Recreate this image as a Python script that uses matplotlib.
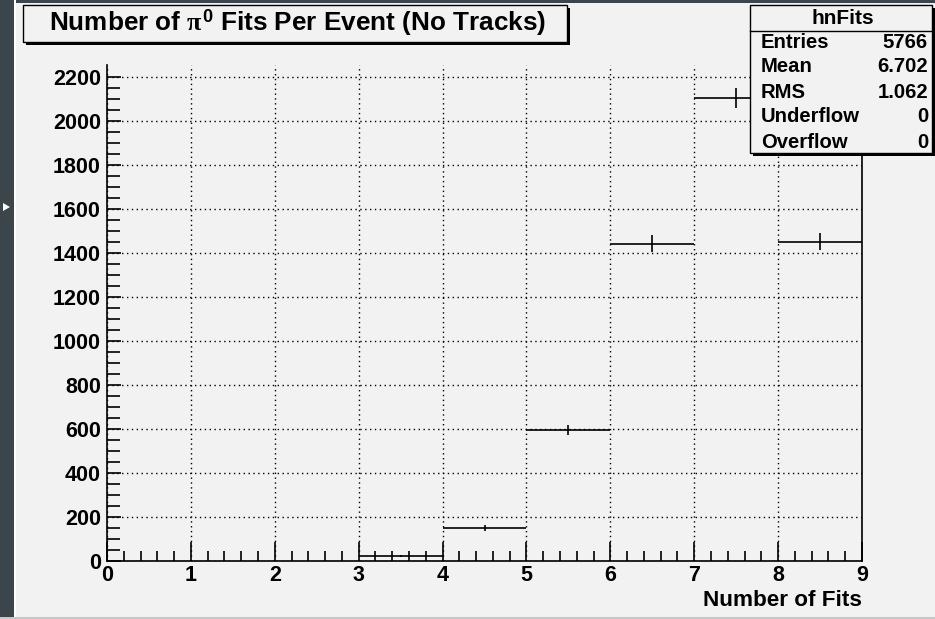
import matplotlib.pyplot as plt
import numpy as np
from matplotlib.patches import Rectangle, Polygon

# histogram contents (bins 0..9, width 1)
bin_lo = [3, 4, 5, 6, 7, 8]
counts = [22, 150, 596, 1442, 2104, 1452]
stat_names = ['Entries', 'Mean', 'RMS', 'Underflow', 'Overflow']
stat_vals = ['5766', '6.702', '1.062', '0', '0']

W, H = 935, 619
bg = '#f2f2f2'
plt.rcParams['font.family'] = ['Liberation Sans', 'DejaVu Sans']
plt.rcParams['font.weight'] = 'bold'
plt.rcParams['mathtext.fontset'] = 'custom'
plt.rcParams['mathtext.rm'] = 'Liberation Serif'
plt.rcParams['mathtext.it'] = 'Liberation Serif'
plt.rcParams['mathtext.bf'] = 'Liberation Sans:bold'

fig = plt.figure(figsize=(W / 100, H / 100), dpi=100, facecolor=bg)

def fx(px):
    return px / W

def fy(py):
    return 1 - py / H

# dark window border on the left and top
fig.patches.append(Rectangle((0, 0), fx(14), 1, transform=fig.transFigure,
                             facecolor='#3c464a', edgecolor='none', zorder=0))
fig.patches.append(Rectangle((0, fy(3)), 1, 3 / H, transform=fig.transFigure,
                             facecolor='#3c464a', edgecolor='none', zorder=0))
fig.patches.append(Rectangle((fx(14), 0), fx(2), 1, transform=fig.transFigure,
                             facecolor='white', edgecolor='none', zorder=0))
fig.patches.append(Rectangle((0, 0), 1, 2 / H, transform=fig.transFigure,
                             facecolor='#c8c8c8', edgecolor='none', zorder=0))
fig.patches.append(Polygon([(fx(3), fy(203)), (fx(10), fy(207)), (fx(3), fy(211))],
                           closed=True, transform=fig.transFigure,
                           facecolor='white', edgecolor='none'))

ax = fig.add_axes([fx(107), fy(561), fx(862) - fx(107), fy(65) - fy(561)])
ax.set_facecolor(bg)

centers = np.array(bin_lo) + 0.5
errs = np.sqrt(counts)
ax.errorbar(centers, counts, xerr=0.5, yerr=errs, fmt='none', ecolor='black',
            elinewidth=1.2, capsize=0, zorder=3)

ax.set_xlim(0, 9)
ax.set_ylim(0, 2255)
ax.set_xticks(range(0, 10))
ax.set_xticks(np.arange(0, 9.01, 0.2), minor=True)
ax.set_yticks(range(0, 2201, 200))
ax.set_yticks(range(0, 2201, 50), minor=True)
ax.grid(True, which='major', color='black', linestyle=(0, (1, 2.5)), linewidth=1)
ax.tick_params(which='major', direction='in', length=14, width=1.2, labelsize=15.5, pad=3)
ax.tick_params(axis='y', which='major', length=10, pad=4.5)
ax.tick_params(which='minor', direction='in', length=7, width=1.2)
ax.tick_params(axis='y', which='minor', length=9)
for lab in ax.get_xticklabels() + ax.get_yticklabels():
    lab.set_fontweight('bold')
for s in ax.spines.values():
    s.set_linewidth(1.2)
ax.spines['top'].set_visible(False)

ax.set_xlabel('Number of Fits', fontsize=16.2, fontweight='bold', loc='right', labelpad=3)

# title box with shadow
tb = (fx(23), fy(42), fx(567) - fx(23), fy(5) - fy(42))
fig.patches.append(Rectangle((tb[0] + fx(3), tb[1] - 3 / H), tb[2], tb[3],
                             transform=fig.transFigure, facecolor='black', edgecolor='none', zorder=5))
fig.patches.append(Rectangle(tb[:2], tb[2], tb[3], transform=fig.transFigure,
                             facecolor=bg, edgecolor='black', linewidth=1, zorder=6))
fig.text(fx(298), fy(23), r'Number of $\pi^{\mathbf{0}}$ Fits Per Event (No Tracks)',
         ha='center', va='center', fontsize=18.8, fontweight='bold', zorder=7)

# stats box
sb = (fx(750), fy(153), fx(932) - fx(750), fy(5) - fy(153))
fig.patches.append(Rectangle((sb[0] + fx(3), sb[1] - 3 / H), sb[2] + fx(10), sb[3],
                             transform=fig.transFigure, facecolor='black', edgecolor='none', zorder=5))
fig.patches.append(Rectangle(sb[:2], sb[2], sb[3], transform=fig.transFigure,
                             facecolor=bg, edgecolor='black', linewidth=1, zorder=6))
fig.add_artist(plt.Line2D([fx(750), fx(932)], [fy(31), fy(31)], color='black', lw=1, zorder=7))
fig.text(fx(843), fy(18), 'hnFits', ha='center', va='center', fontsize=15,
         fontweight='bold', zorder=7)
row_y = [43, 67, 92, 117, 142]
for name, val, yy in zip(stat_names, stat_vals, row_y):
    fig.text(fx(761), fy(yy), name, ha='left', va='center', fontsize=14.6,
             fontweight='bold', zorder=7)
    fig.text(fx(928), fy(yy), val, ha='right', va='center', fontsize=14.6,
             fontweight='bold', zorder=7)

fig.savefig('out.png', dpi=100, facecolor=bg)
